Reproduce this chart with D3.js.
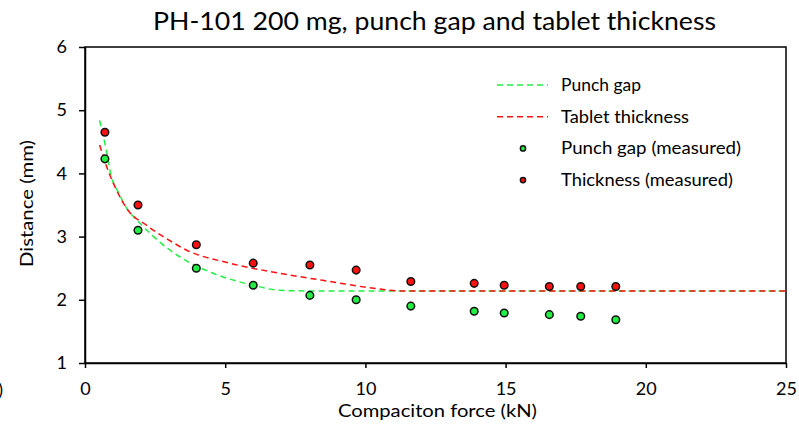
<!DOCTYPE html>
<html>
<head>
<meta charset="utf-8">
<script src="https://cdn.jsdelivr.net/npm/d3@7"></script>
<style>
  body { margin: 0; background: #fff; }
  svg { font-family: Lato, 'Open Sans', sans-serif; }
</style>
</head>
<body>
<div class="graph-container"></div>
<script>
var svgWidth = 799;
var svgHeight = 425;
var padLeft = 85, padRight = 13, padTop = 47, padBottom = 62;

// measured points
var forceMeasured = [0.71, 1.89, 3.97, 6.0, 8.02, 9.67, 11.62, 13.88, 14.95, 16.56, 17.68, 18.93];
var gapMeasured = [4.23, 3.10, 2.50, 2.23, 2.07, 2.00, 1.90, 1.82, 1.79, 1.765, 1.74, 1.685];
var thickMeasured = [4.65, 3.50, 2.87, 2.58, 2.55, 2.47, 2.29, 2.26, 2.23, 2.21, 2.21, 2.21];

// model curves
var gapCurveX = [0.52, 0.76, 0.94, 1.18, 1.53, 1.9, 2.73, 3.38, 4.57, 6.0, 6.95, 8.0, 25];
var gapCurveY = [4.84, 4.37, 3.95, 3.71, 3.42, 3.24, 2.89, 2.68, 2.42, 2.23, 2.15, 2.14, 2.14];
var thickCurveX = [0.52, 0.82, 1.12, 1.53, 2.19, 3.2, 3.56, 5.16, 6.95, 8.73, 10.52, 11.3, 25];
var thickCurveY = [4.45, 4.05, 3.74, 3.42, 3.18, 2.89, 2.80, 2.58, 2.42, 2.29, 2.17, 2.14, 2.14];

var xTicks = [0, 5, 10, 15, 20, 25];
var yTicks = [1, 2, 3, 4, 5, 6];

var legendItems = [
  { label: 'Punch gap', type: 'line', color: '#22ee44', width: 80 },
  { label: 'Tablet thickness', type: 'line', color: '#ff1111', width: 128 },
  { label: 'Punch gap (measured)', type: 'dot', color: '#22ee44', width: 180 },
  { label: 'Thickness (measured)', type: 'dot', color: '#ff1111', width: 172 }
];

var svg = d3.select('.graph-container').append('svg')
  .attr('width', svgWidth)
  .attr('height', svgHeight);

var xScale = d3.scaleLinear().domain([0, 25]).range([padLeft, svgWidth - padRight]);
var yScale = d3.scaleLinear().domain([1, 6]).range([svgHeight - padBottom, padTop]);

// frame
svg.append('rect')
  .attr('x', xScale(0))
  .attr('y', yScale(6))
  .attr('width', xScale(25) - xScale(0))
  .attr('height', yScale(1) - yScale(6))
  .attr('fill', 'none')
  .attr('stroke', '#000')
  .attr('stroke-width', 1.5);

// axes
var xAxis = d3.axisBottom(xScale).tickValues(xTicks).tickSize(5).tickSizeOuter(0)
  .tickFormat(d3.format('d'));
var gx = svg.append('g')
  .attr('transform', 'translate(0,' + yScale(1) + ')')
  .call(xAxis);
var yAxis = d3.axisLeft(yScale).tickValues(yTicks).tickSize(6).tickSizeOuter(0)
  .tickFormat(d3.format('d'));
var gy = svg.append('g')
  .attr('transform', 'translate(' + xScale(0) + ',0)')
  .call(yAxis);

[gx, gy].forEach(function(g) {
  g.select('.domain').attr('stroke', '#000').attr('stroke-width', 1.5);
  g.selectAll('.tick line').attr('stroke', '#000').attr('stroke-width', 1.5);
  g.selectAll('.tick text')
    .attr('fill', '#000')
    .style('font-family', 'Lato, sans-serif')
    .style('font-size', '18px');
});
gx.selectAll('.tick text').attr('y', 19);
gy.selectAll('.tick text').attr('x', -18);

// curves
var line = d3.line()
  .x(function(d) { return xScale(d[0]); })
  .y(function(d) { return yScale(d[1]); })
  .curve(d3.curveMonotoneX);

var gapCurve = d3.zip(gapCurveX, gapCurveY);
var thickCurve = d3.zip(thickCurveX, thickCurveY);

svg.append('path')
  .datum(gapCurve)
  .attr('d', line)
  .attr('fill', 'none')
  .attr('stroke', '#22ee44')
  .attr('stroke-width', 1.5)
  .attr('stroke-dasharray', '6,4');

svg.append('path')
  .datum(thickCurve)
  .attr('d', line)
  .attr('fill', 'none')
  .attr('stroke', '#ff1111')
  .attr('stroke-width', 1.5)
  .attr('stroke-dasharray', '6,4');

// measured dots
var gapPts = d3.zip(forceMeasured, gapMeasured);
var thickPts = d3.zip(forceMeasured, thickMeasured);

svg.selectAll('.gap-dot')
  .data(gapPts)
  .enter()
  .append('circle')
  .attr('class', 'gap-dot')
  .attr('cx', function(d) { return xScale(d[0]); })
  .attr('cy', function(d) { return yScale(d[1]); })
  .attr('r', 3.8)
  .attr('fill', '#22ee44')
  .attr('stroke', '#111')
  .attr('stroke-width', 1.5);

svg.selectAll('.thick-dot')
  .data(thickPts)
  .enter()
  .append('circle')
  .attr('class', 'thick-dot')
  .attr('cx', function(d) { return xScale(d[0]); })
  .attr('cy', function(d) { return yScale(d[1]); })
  .attr('r', 3.8)
  .attr('fill', '#ff1111')
  .attr('stroke', '#111')
  .attr('stroke-width', 1.5);

// legend
var legend = svg.append('g').attr('transform', 'translate(497,85)');
legendItems.forEach(function(item, i) {
  var g = legend.append('g').attr('transform', 'translate(0,' + (i * 31.7) + ')');
  if (item.type === 'line') {
    g.append('line')
      .attr('x1', 0).attr('x2', 51)
      .attr('y1', 0).attr('y2', 0)
      .attr('stroke', item.color)
      .attr('stroke-width', 1.5)
      .attr('stroke-dasharray', '6,4');
  } else {
    g.append('circle')
      .attr('cx', 26).attr('cy', 0).attr('r', 2.6)
      .attr('fill', item.color)
      .attr('stroke', '#111')
      .attr('stroke-width', 1.5);
  }
  g.append('text')
    .attr('x', 64)
    .attr('y', 6)
    .style('font-size', '17px')
    .attr('fill', '#000')
    .attr('textLength', item.width)
    .attr('lengthAdjust', 'spacingAndGlyphs')
    .text(item.label);
});

// title
svg.append('text')
  .attr('x', 434.5)
  .attr('y', 30)
  .style('text-anchor', 'middle')
  .style('font-size', '25px')
  .attr('fill', '#000')
  .attr('textLength', 563)
  .attr('lengthAdjust', 'spacingAndGlyphs')
  .text('PH-101 200 mg, punch gap and tablet thickness');

// x-axis label
svg.append('text')
  .attr('x', 437.5)
  .attr('y', 416.5)
  .style('text-anchor', 'middle')
  .style('font-size', '18px')
  .attr('fill', '#000')
  .attr('textLength', 199)
  .attr('lengthAdjust', 'spacingAndGlyphs')
  .text('Compaciton force (kN)');

// y-axis label
svg.append('text')
  .attr('x', -203.5)
  .attr('y', 33)
  .style('text-anchor', 'middle')
  .style('font-size', '18px')
  .attr('fill', '#000')
  .attr('textLength', 127)
  .attr('lengthAdjust', 'spacingAndGlyphs')
  .attr('transform', 'rotate(-90)')
  .text('Distance (mm)');

// clipped stray label at the left edge
svg.append('text')
  .attr('x', 3)
  .attr('y', 396)
  .style('text-anchor', 'end')
  .style('font-size', '18px')
  .attr('fill', '#000')
  .text('0)');
</script>
</body>
</html>
